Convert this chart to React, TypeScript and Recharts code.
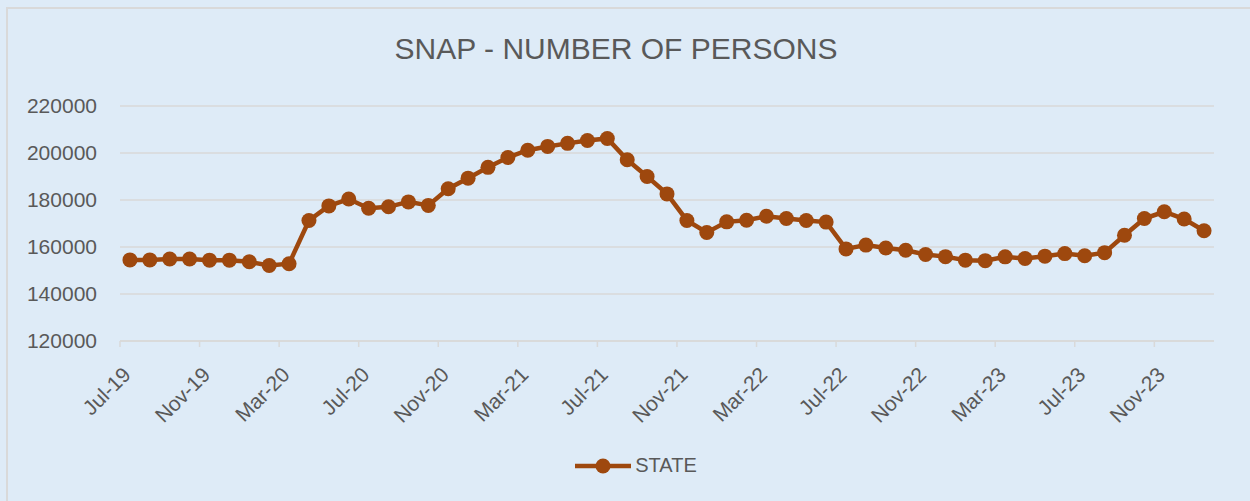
import React from "react";
import { LineChart, Line, XAxis, YAxis, CartesianGrid, Legend } from "recharts";

const months: string[] = [
  "Jul-19", "Aug-19", "Sep-19", "Oct-19", "Nov-19", "Dec-19", "Jan-20", "Feb-20", "Mar-20", "Apr-20",
  "May-20", "Jun-20", "Jul-20", "Aug-20", "Sep-20", "Oct-20", "Nov-20", "Dec-20", "Jan-21", "Feb-21",
  "Mar-21", "Apr-21", "May-21", "Jun-21", "Jul-21", "Aug-21", "Sep-21", "Oct-21", "Nov-21", "Dec-21",
  "Jan-22", "Feb-22", "Mar-22", "Apr-22", "May-22", "Jun-22", "Jul-22", "Aug-22", "Sep-22", "Oct-22",
  "Nov-22", "Dec-22", "Jan-23", "Feb-23", "Mar-23", "Apr-23", "May-23", "Jun-23", "Jul-23", "Aug-23",
  "Sep-23", "Oct-23", "Nov-23", "Dec-23", "Jan-24",
];

const stateValues: number[] = [
  154500, 154500, 154900, 154900, 154400, 154400, 153700, 152100, 152900, 171300,
  177500, 180400, 176500, 177100, 179200, 177700, 184800, 189300, 193900, 198100,
  201200, 202800, 204100, 205300, 206200, 197100, 190000, 182600, 171300, 166200,
  170700, 171400, 173100, 172100, 171300, 170600, 159200, 160800, 159600, 158600,
  156800, 155900, 154400, 154200, 155800, 155100, 156100, 157200, 156300, 157600,
  165000, 172100, 175000, 171900, 166900,
];

const xTicks: number[] = [0, 4, 8, 12, 16, 20, 24, 28, 32, 36, 40, 44, 48, 52];
const yTicks: number[] = [120000, 140000, 160000, 180000, 200000, 220000];

const data = months.map((m, i) => ({ month: m, pos: i + 0.5, STATE: stateValues[i] }));

const FONT = "'Liberation Sans', Arial, sans-serif";
const TEXT = "#595959";
const LINE = "#9E480E";
const GRID = "#D9D9D9";

const XTick = (props: any) => {
  const { x, y, payload } = props;
  const tx = x + 12;
  const ty = y + 27;
  return (
    <text
      x={tx}
      y={ty}
      fill={TEXT}
      fontSize={21}
      fontFamily={FONT}
      textAnchor="end"
      transform={`rotate(-45, ${tx}, ${ty})`}
    >
      {months[payload.value]}
    </text>
  );
};

const YTick = (props: any) => {
  const { y, payload } = props;
  return (
    <text x={97} y={y + 7} fill={TEXT} fontSize={21} fontFamily={FONT} textAnchor="end">
      {payload.value}
    </text>
  );
};

const LegendContent = () => (
  <div style={{ display: "flex", justifyContent: "center", alignItems: "center", width: 1250 }}>
    <svg width={60} height={20} style={{ marginLeft: 20 }}>
      <line x1={2} y1={10} x2={58} y2={10} stroke={LINE} strokeWidth={4.5} />
      <circle cx={30} cy={10} r={7.5} fill={LINE} />
    </svg>
    <span style={{ fontFamily: FONT, fontSize: 20, color: TEXT, marginLeft: 2 }}>STATE</span>
  </div>
);

export default function App() {
  return (
    <div
      style={{
        position: "absolute",
        left: 0,
        top: 0,
        width: 1250,
        height: 501,
        background: "#DEEBF7",
        overflow: "hidden",
      }}
    >
      <div
        style={{
          position: "absolute",
          left: 6,
          top: 7,
          width: 1300,
          height: 600,
          border: "2px solid #D9D9D9",
          boxSizing: "border-box",
        }}
      />
      <div
        style={{
          position: "absolute",
          left: 0,
          top: 31,
          width: 1232,
          textAlign: "center",
          fontFamily: FONT,
          fontSize: 30,
          color: TEXT,
          lineHeight: "36px",
        }}
      >
        SNAP - NUMBER OF PERSONS
      </div>
      <div style={{ position: "absolute", left: 0, top: 0 }}>
        <LineChart
          width={1250}
          height={501}
          data={data}
          margin={{ top: 106, right: 36, bottom: 0, left: 0 }}
        >
          <CartesianGrid vertical={false} stroke={GRID} strokeWidth={1.5} />
          <XAxis
            dataKey="pos"
            type="number"
            domain={[0, 55]}
            ticks={xTicks}
            interval={0}
            stroke={GRID}
            strokeWidth={1.5}
            tickSize={6}
            tick={<XTick />}
            height={137}
            allowDecimals={false}
          />
          <YAxis
            domain={[120000, 220000]}
            ticks={yTicks}
            width={120}
            axisLine={false}
            tickLine={false}
            tick={<YTick />}
          />
          <Legend
            content={<LegendContent />}
            wrapperStyle={{ position: "absolute", top: 454, left: 0, width: 1250 }}
          />
          <Line
            type="linear"
            dataKey="STATE"
            stroke={LINE}
            strokeWidth={4.5}
            dot={{ r: 7.5, fill: LINE, stroke: LINE, strokeWidth: 0 }}
            activeDot={false}
            isAnimationActive={false}
          />
        </LineChart>
      </div>
    </div>
  );
}
